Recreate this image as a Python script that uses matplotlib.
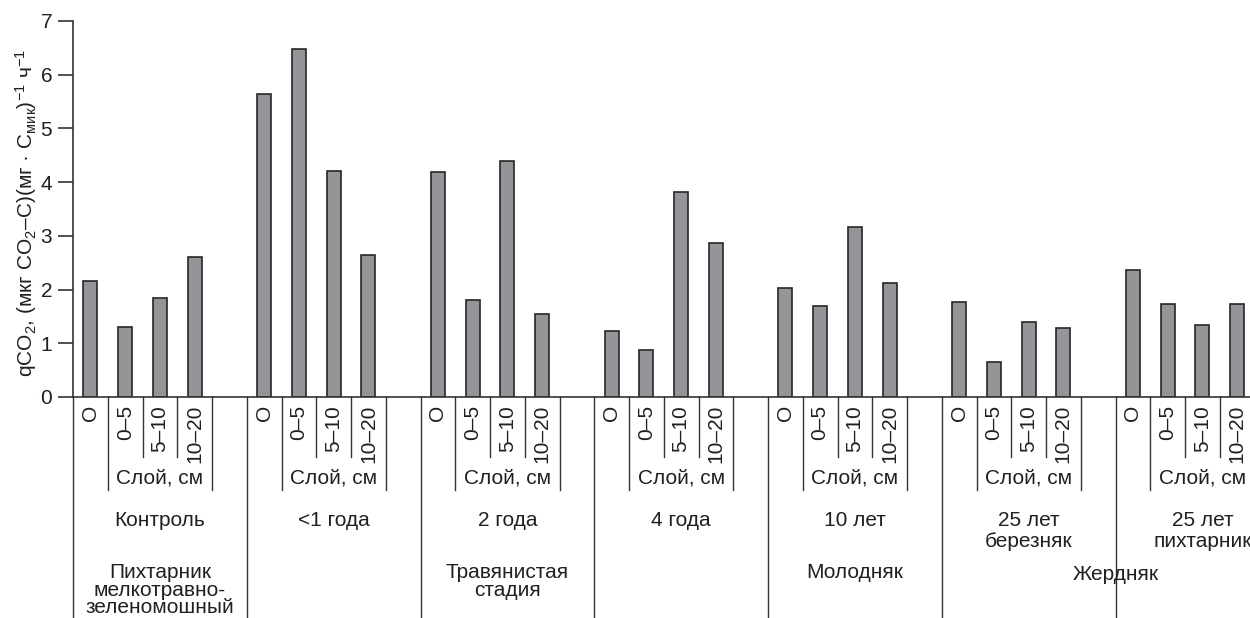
# qCO2 by soil layer and succession stage - bar chart with grouped axis labels
import numpy as np
import matplotlib.pyplot as plt
import matplotlib.transforms as mtransforms

plt.rcParams['font.family'] = ['Liberation Sans', 'DejaVu Sans']
plt.rcParams['mathtext.fontset'] = 'custom'
plt.rcParams['mathtext.rm'] = 'Liberation Sans'
plt.rcParams['mathtext.it'] = 'Liberation Sans:italic'
plt.rcParams['mathtext.bf'] = 'Liberation Sans:bold'

# %%
# data
layers = ['O', '0–5', '5–10', '10–20']
stages = ['Контроль', '<1 года', '2 года', '4 года', '10 лет',
          '25 лет\nберезняк', '25 лет\nпихтарник']
q_control = [2.16, 1.30, 1.85, 2.61]
q_lt1 = [5.65, 6.47, 4.21, 2.65]
q_2y = [4.18, 1.81, 4.40, 1.55]
q_4y = [1.23, 0.87, 3.81, 2.86]
q_10y = [2.03, 1.70, 3.17, 2.13]
q_25birch = [1.76, 0.65, 1.39, 1.28]
q_25fir = [2.37, 1.73, 1.34, 1.73]
all_q = [q_control, q_lt1, q_2y, q_4y, q_10y, q_25birch, q_25fir]

# %%
W, H = 1250, 618
fs = 15
tc = '#231f20'
fig = plt.figure(figsize=(W / 100, H / 100), dpi=100)
slot_px = 34.75
n_slots = 5 * len(stages) - 1
ax = fig.add_axes([73 / W, (H - 397) / H, n_slots * slot_px / W, 376 / H])

for g, vals in enumerate(all_q):
    xs = 5 * g + np.arange(len(vals)) + 0.5
    ax.bar(xs, vals, width=0.41, color='#949599', edgecolor='#262626',
           linewidth=1.2, zorder=2)

ax.set_xlim(0, n_slots)
ax.set_ylim(0, 7)
ax.set_yticks(range(0, 8))
ax.set_xticks([])
ax.spines['top'].set_visible(False)
ax.spines['right'].set_visible(False)
ax.spines['left'].set_linewidth(1.2)
ax.spines['bottom'].set_linewidth(1.2)
ax.spines['left'].set_color('#333333')
ax.spines['bottom'].set_color('#333333')
ax.tick_params(axis='y', length=11, width=1.2, color='#333333', labelsize=fs,
               pad=4, labelcolor=tc)

fig.text(26 / W, 1 - 213 / H,
         r'qCO$_2$, (мкг CO$_2$–C)(мг · C$_{\mathrm{мик}}$)$^{-1}$ ч$^{-1}$',
         rotation=90, ha='center', va='center', fontsize=fs, color=tc)

# %%
# category labels under the axis
trans = mtransforms.blended_transform_factory(ax.transData, fig.transFigure)


def fy(p):
    return 1 - p / H


lc = '#333333'
for g in range(len(stages)):
    s = 5 * g
    ax.plot([s, s], [fy(397), fy(H)], transform=trans, clip_on=False, color=lc, lw=1.0)
    for k in (1, 4):
        ax.plot([s + k, s + k], [fy(397), fy(490)], transform=trans, clip_on=False,
                color=lc, lw=1.0)
    for k in (2, 3):
        ax.plot([s + k, s + k], [fy(397), fy(457)], transform=trans, clip_on=False,
                color=lc, lw=1.0)
    for i, lab in enumerate(layers):
        ax.text(s + i + 0.5, fy(405), lab, rotation=90, ha='center', va='top',
                transform=trans, fontsize=fs, color=tc)
    ax.text(s + 2.5, fy(478), 'Слой, см', ha='center', va='center',
            transform=trans, fontsize=fs, color=tc)
    ax.text(s + 2.5, fy(511), stages[g], ha='center', va='top', linespacing=1.12,
            transform=trans, fontsize=fs, color=tc)

ax.text(2.5, fy(563), 'Пихтарник\nмелкотравно-\nзеленомошный', ha='center', va='top',
        linespacing=0.9, transform=trans, fontsize=fs, color=tc)
ax.text(12.5, fy(563), 'Травянистая\nстадия', ha='center', va='top',
        linespacing=0.9, transform=trans, fontsize=fs, color=tc)
ax.text(22.5, fy(573), 'Молодняк', ha='center', va='center',
        transform=trans, fontsize=fs, color=tc)
ax.text(30, fy(575), 'Жердняк', ha='center', va='center',
        transform=trans, fontsize=fs, color=tc)

plt.savefig('out.png', dpi=100)
